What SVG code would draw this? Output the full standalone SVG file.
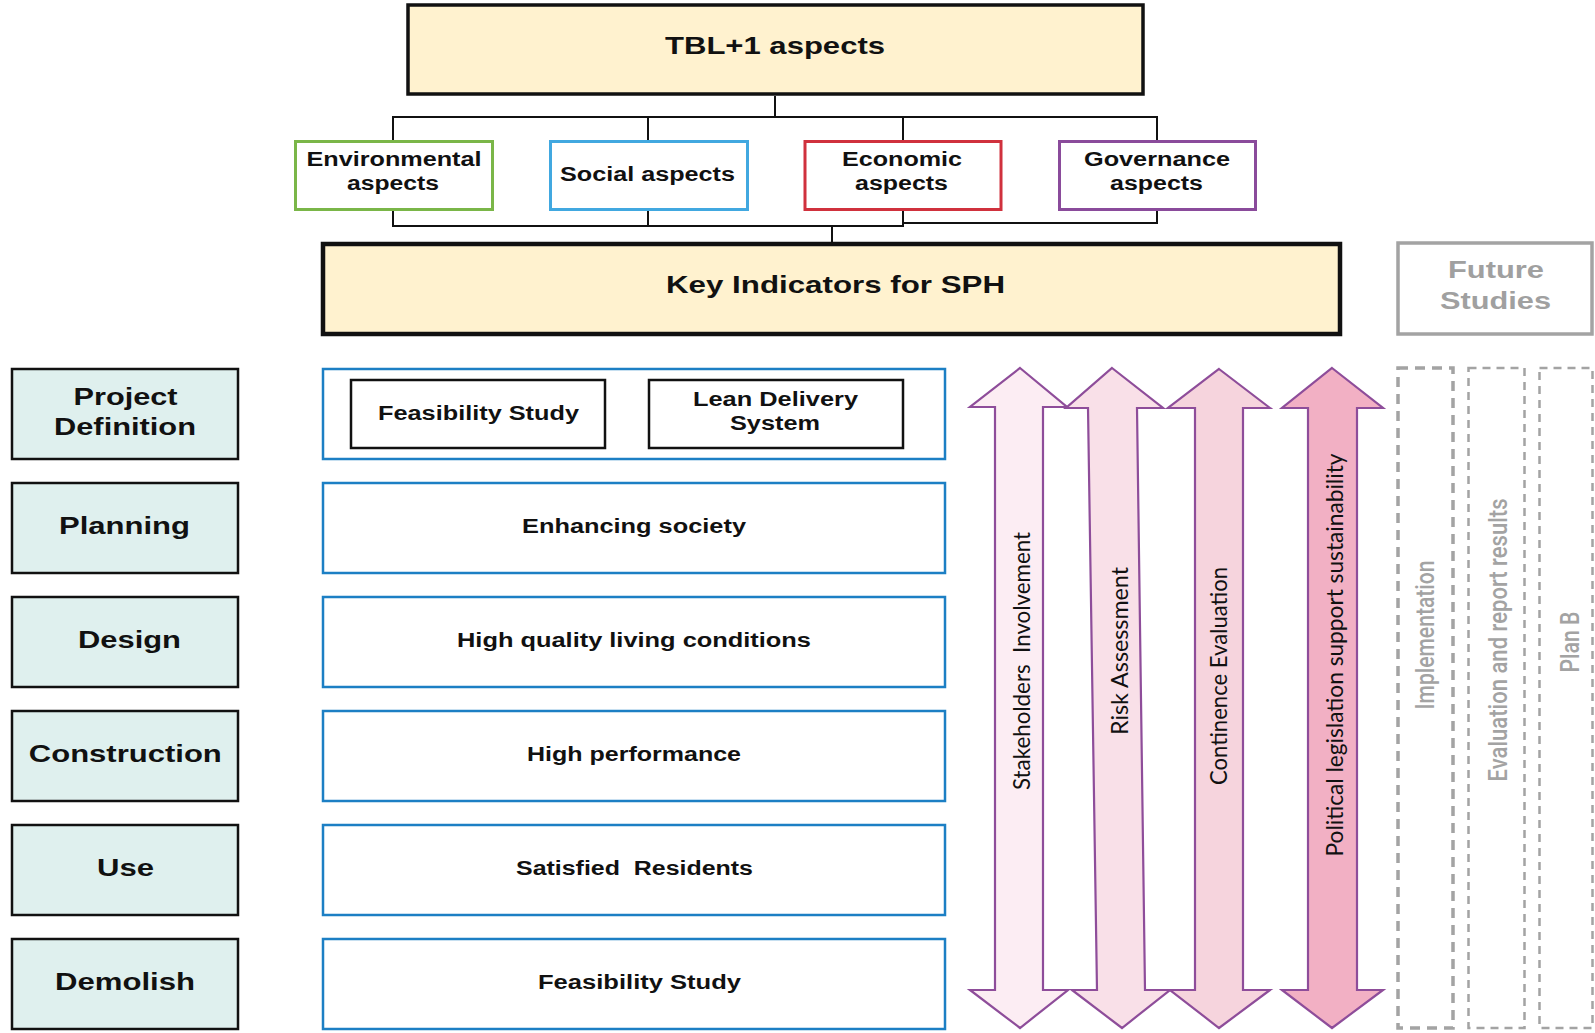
<svg xmlns="http://www.w3.org/2000/svg" width="1595" height="1033" viewBox="0 0 1595 1033">
  <defs>
    <style>
      .bg { fill: #ffffff; }
      .head { fill: #fff2cf; stroke: #111111; }
      .aspect { fill: #ffffff; stroke-width: 3; }
      .phase { fill: #dff0ee; stroke: #111111; stroke-width: 2.5; }
      .kpi { fill: #ffffff; stroke: #1c7fc4; stroke-width: 2.5; }
      .inner { fill: #ffffff; stroke: #111111; stroke-width: 2.5; }
      .link { fill: none; stroke: #111111; stroke-width: 2; }
      .arrow { stroke: #8e4d9a; stroke-width: 2.2; stroke-linejoin: miter; }
      .future { fill: #ffffff; stroke: #a3a3a3; }
      .lbl { font-family: "Liberation Sans", Arial, sans-serif; font-weight: bold; fill: #111111; text-anchor: middle; }
      .grey { fill: #a0a0a0; }
      .vlbl { font-family: Lato, "Open Sans", sans-serif; font-size: 24px; fill: #111111; text-anchor: middle; white-space: pre; }
      .glbl { font-family: Roboto, "Liberation Sans", sans-serif; font-size: 25px; font-weight: 500; fill: #a3a3a3; text-anchor: middle; }
    </style>
  </defs>

  <rect class="bg" x="0" y="0" width="1595" height="1033"/>

  <!-- connector lines of the aspect tree -->
  <g id="connectors">
    <polyline class="link" points="775,96 775,117"/>
    <polyline class="link" points="393,140 393,117 1157,117 1157,141"/>
    <polyline class="link" points="648,117 648,140"/>
    <polyline class="link" points="903,117 903,140"/>
    <polyline class="link" points="393,210 393,226 903,226 903,210"/>
    <polyline class="link" points="648,210 648,226"/>
    <polyline class="link" points="1157,209 1157,223 903,223"/>
    <polyline class="link" points="832,226 832,243"/>
  </g>

  <!-- top heading -->
  <g id="tbl">
    <rect class="head" x="408" y="5" width="735" height="89" stroke-width="3.5"/>
    <text class="lbl" x="775" y="54" font-size="24" textLength="220" lengthAdjust="spacingAndGlyphs">TBL+1 aspects</text>
  </g>

  <!-- four aspect boxes -->
  <g id="env">
    <rect class="aspect" x="295.5" y="141.5" width="197" height="68" stroke="#7ab648"/>
    <text class="lbl" x="394" y="166" font-size="20" textLength="175" lengthAdjust="spacingAndGlyphs">Environmental</text>
    <text class="lbl" x="393" y="190" font-size="20" textLength="92" lengthAdjust="spacingAndGlyphs">aspects</text>
  </g>
  <g id="social">
    <rect class="aspect" x="550.5" y="141.5" width="197" height="68" stroke="#41a8e0"/>
    <text class="lbl" x="647.5" y="181" font-size="20" textLength="175" lengthAdjust="spacingAndGlyphs">Social aspects</text>
  </g>
  <g id="econ">
    <rect class="aspect" x="805" y="141.5" width="196" height="68" stroke="#d0313d"/>
    <text class="lbl" x="902" y="166" font-size="20" textLength="120" lengthAdjust="spacingAndGlyphs">Economic</text>
    <text class="lbl" x="901.5" y="190" font-size="20" textLength="93" lengthAdjust="spacingAndGlyphs">aspects</text>
  </g>
  <g id="gov">
    <rect class="aspect" x="1059.5" y="141.5" width="196" height="68" stroke="#8a4b9b"/>
    <text class="lbl" x="1157" y="166" font-size="20" textLength="146" lengthAdjust="spacingAndGlyphs">Governance</text>
    <text class="lbl" x="1156.5" y="190" font-size="20" textLength="93" lengthAdjust="spacingAndGlyphs">aspects</text>
  </g>

  <!-- key indicators bar -->
  <g id="key">
    <rect class="head" x="323" y="244" width="1017" height="90" stroke-width="4.5"/>
    <text class="lbl" x="835.5" y="293" font-size="24" textLength="339" lengthAdjust="spacingAndGlyphs">Key Indicators for SPH</text>
  </g>

  <g id="future">
    <rect class="future" x="1398" y="243" width="194" height="91" stroke-width="3.5"/>
    <text class="lbl grey" x="1496" y="278" font-size="23" textLength="96" lengthAdjust="spacingAndGlyphs">Future</text>
    <text class="lbl grey" x="1495.5" y="309" font-size="23" textLength="111" lengthAdjust="spacingAndGlyphs">Studies</text>
  </g>

  <!-- project phases -->
  <g id="phase-definition">
    <rect class="phase" x="12" y="369" width="226" height="90"/>
    <text class="lbl" x="125.5" y="405" font-size="23" textLength="104" lengthAdjust="spacingAndGlyphs">Project</text>
    <text class="lbl" x="125" y="435" font-size="23" textLength="142" lengthAdjust="spacingAndGlyphs">Definition</text>
  </g>
  <g id="phase-planning">
    <rect class="phase" x="12" y="483" width="226" height="90"/>
    <text class="lbl" x="124.5" y="534" font-size="23" textLength="131" lengthAdjust="spacingAndGlyphs">Planning</text>
  </g>
  <g id="phase-design">
    <rect class="phase" x="12" y="597" width="226" height="90"/>
    <text class="lbl" x="129.5" y="648" font-size="23" textLength="103" lengthAdjust="spacingAndGlyphs">Design</text>
  </g>
  <g id="phase-construction">
    <rect class="phase" x="12" y="711" width="226" height="90"/>
    <text class="lbl" x="125.3" y="762" font-size="23" textLength="193" lengthAdjust="spacingAndGlyphs">Construction</text>
  </g>
  <g id="phase-use">
    <rect class="phase" x="12" y="825" width="226" height="90"/>
    <text class="lbl" x="125.5" y="876" font-size="23" textLength="57" lengthAdjust="spacingAndGlyphs">Use</text>
  </g>
  <g id="phase-demolish">
    <rect class="phase" x="12" y="939" width="226" height="90"/>
    <text class="lbl" x="125" y="990" font-size="23" textLength="140" lengthAdjust="spacingAndGlyphs">Demolish</text>
  </g>

  <!-- indicators per phase -->
  <g id="kpi-definition">
    <rect class="kpi" x="323" y="369" width="622" height="90"/>
    <rect class="inner" x="351" y="380" width="254" height="68"/>
    <text class="lbl" x="478.5" y="420" font-size="19.5" textLength="201" lengthAdjust="spacingAndGlyphs">Feasibility Study</text>
    <rect class="inner" x="649" y="380" width="254" height="68"/>
    <text class="lbl" x="775.5" y="406" font-size="19.5" textLength="165" lengthAdjust="spacingAndGlyphs">Lean Delivery</text>
    <text class="lbl" x="775" y="430" font-size="19.5" textLength="90" lengthAdjust="spacingAndGlyphs">System</text>
  </g>
  <g id="kpi-planning">
    <rect class="kpi" x="323" y="483" width="622" height="90"/>
    <text class="lbl" x="634" y="533" font-size="19.5" textLength="224" lengthAdjust="spacingAndGlyphs">Enhancing society</text>
  </g>
  <g id="kpi-design">
    <rect class="kpi" x="323" y="597" width="622" height="90"/>
    <text class="lbl" x="634" y="647" font-size="19.5" textLength="354" lengthAdjust="spacingAndGlyphs">High quality living conditions</text>
  </g>
  <g id="kpi-construction">
    <rect class="kpi" x="323" y="711" width="622" height="90"/>
    <text class="lbl" x="634" y="761" font-size="19.5" textLength="214" lengthAdjust="spacingAndGlyphs">High performance</text>
  </g>
  <g id="kpi-use">
    <rect class="kpi" x="323" y="825" width="622" height="90"/>
    <text class="lbl" x="634.5" y="875" font-size="19.5" textLength="237" lengthAdjust="spacingAndGlyphs" xml:space="preserve">Satisfied  Residents</text>
  </g>
  <g id="kpi-demolish">
    <rect class="kpi" x="323" y="939" width="622" height="90"/>
    <text class="lbl" x="639.5" y="989" font-size="19.5" textLength="203" lengthAdjust="spacingAndGlyphs">Feasibility Study</text>
  </g>

  <!-- cross-cutting double arrows -->
  <g id="arrow-stakeholders">
    <polygon class="arrow" fill="#fcedf3" points="1020,368 1067,407 1043,407 1043,990 1068,990 1020,1028 970,990 995,990 995,407 970,407"/>
    <text class="vlbl" transform="translate(1029.5,661) rotate(-90)" textLength="258" lengthAdjust="spacingAndGlyphs" xml:space="preserve">Stakeholders  Involvement</text>
  </g>
  <g id="arrow-risk">
    <polygon class="arrow" fill="#f9e0e8" points="1112,368 1163,408 1137,408 1145,990 1170,990 1122,1028 1072,990 1097,990 1088,408 1066,408"/>
    <text class="vlbl" transform="translate(1127.5,651) rotate(-90)" textLength="168" lengthAdjust="spacingAndGlyphs">Risk Assessment</text>
  </g>
  <g id="arrow-continence">
    <polygon class="arrow" fill="#f6d4dd" points="1219,369 1270,408 1243,408 1243,990 1270,990 1219,1028 1170,990 1195,990 1195,408 1168,408"/>
    <text class="vlbl" transform="translate(1226.5,676) rotate(-90)" textLength="218" lengthAdjust="spacingAndGlyphs">Continence Evaluation</text>
  </g>
  <g id="arrow-political">
    <polygon class="arrow" fill="#f2b0c4" points="1332,368 1383,408 1357,408 1357,990 1383,990 1332,1028 1282,990 1308,990 1308,408 1282,408"/>
    <text class="vlbl" transform="translate(1343,655) rotate(-90)" textLength="403" lengthAdjust="spacingAndGlyphs">Political legislation support sustainability</text>
  </g>

  <!-- future study columns -->
  <g id="fs-implementation">
    <rect class="future" x="1398" y="368" width="55" height="660" stroke-width="3.5" stroke-dasharray="10 7"/>
    <text class="glbl" transform="translate(1434,635) rotate(-90)" textLength="149" lengthAdjust="spacingAndGlyphs">Implementation</text>
  </g>
  <g id="fs-evaluation">
    <rect class="future" x="1468.5" y="368" width="56" height="660" stroke-width="2.5" stroke-dasharray="8 6"/>
    <text class="glbl" transform="translate(1507,640) rotate(-90)" textLength="283" lengthAdjust="spacingAndGlyphs">Evaluation and report results</text>
  </g>
  <g id="fs-planb">
    <rect class="future" x="1539.5" y="368" width="53" height="660" stroke-width="2.5" stroke-dasharray="8 6"/>
    <text class="glbl" transform="translate(1578.5,642) rotate(-90)" textLength="61" lengthAdjust="spacingAndGlyphs">Plan B</text>
  </g>
</svg>
